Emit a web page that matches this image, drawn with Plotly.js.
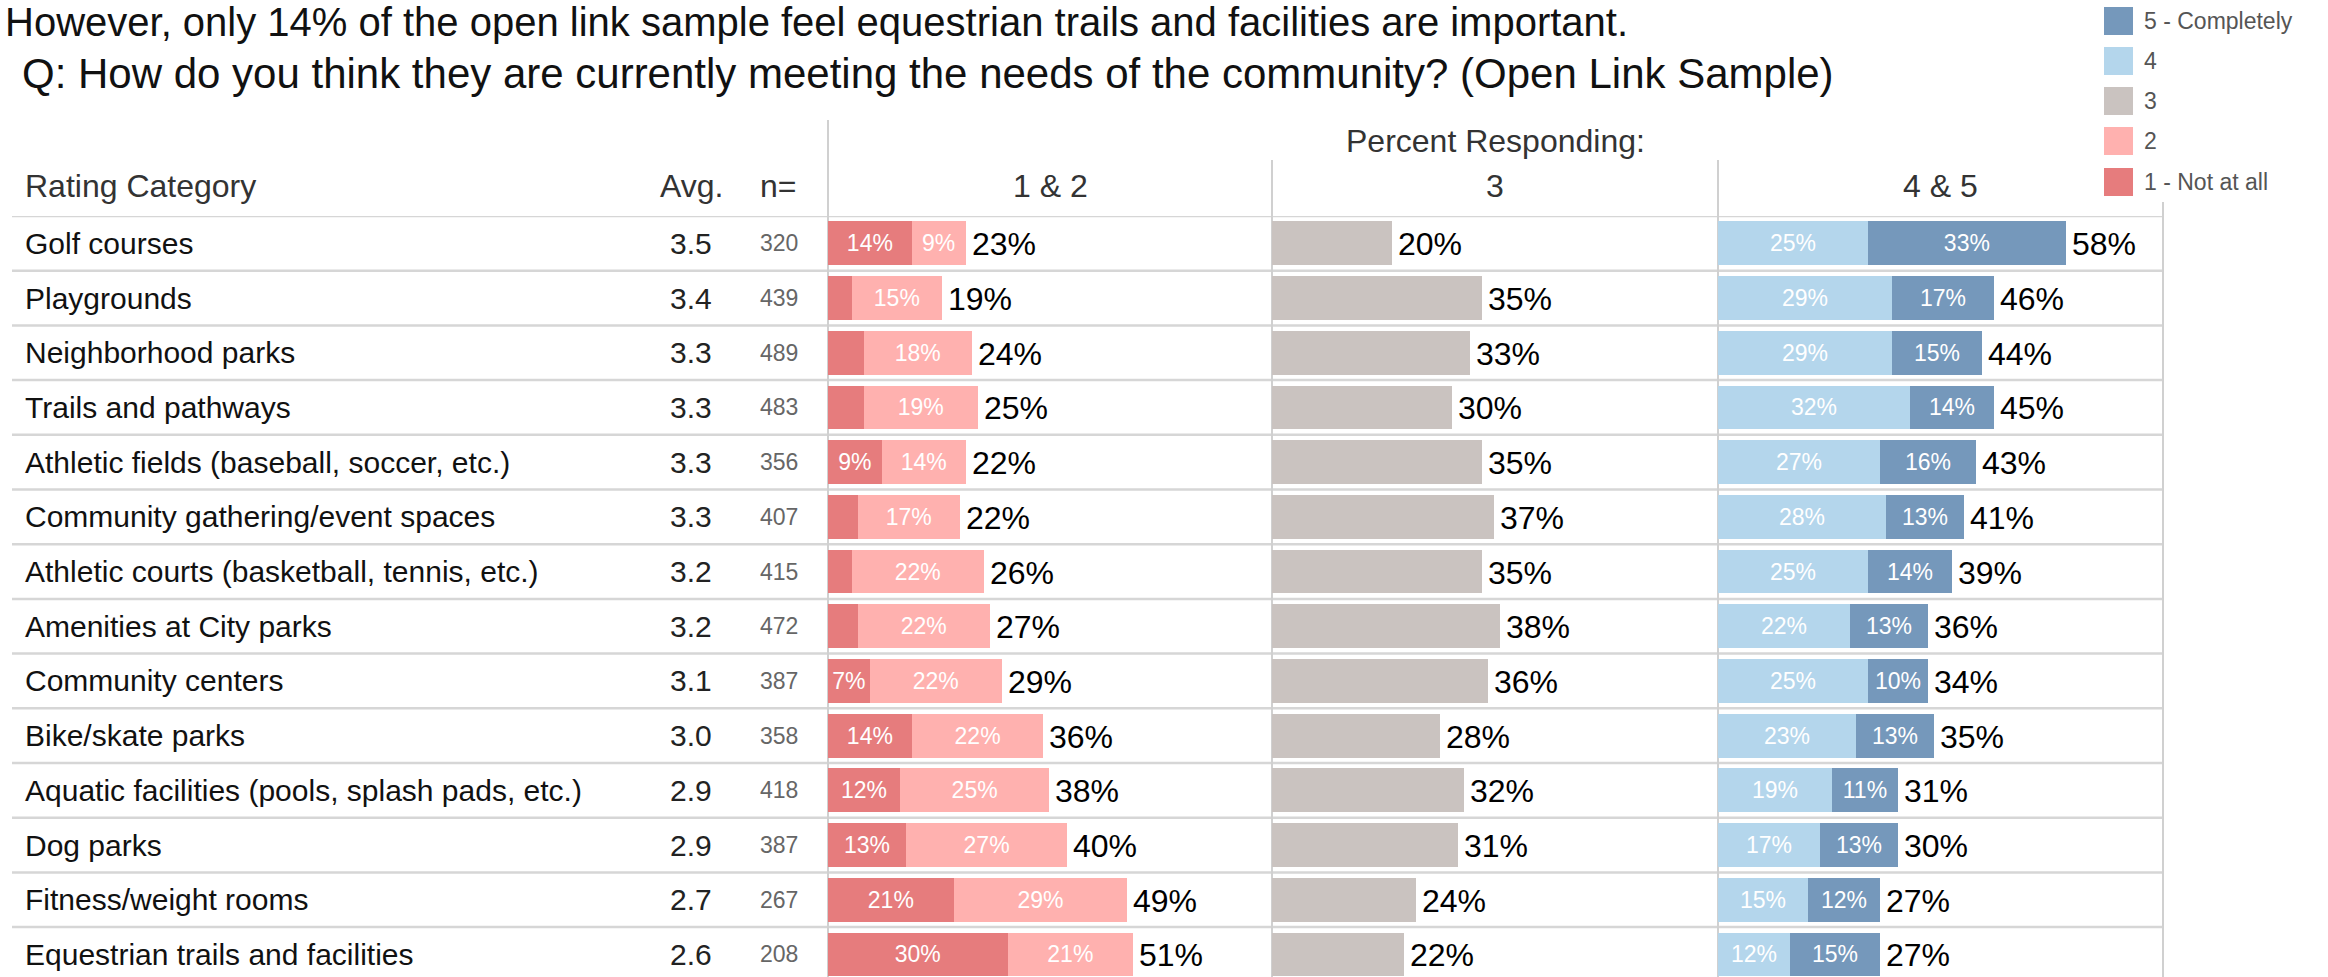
<!DOCTYPE html>
<html>
<head>
<meta charset="utf-8">
<script src="https://cdn.plot.ly/plotly-3.0.1.min.js"></script>
<style>html,body{margin:0;padding:0;background:#fff;}#chart{width:2328px;height:977px;}</style>
</head>
<body>
<div id="chart"></div>
<script>
// ---------------- DATA ----------------
const categories = [
  "Golf courses",
  "Playgrounds",
  "Neighborhood parks",
  "Trails and pathways",
  "Athletic fields (baseball, soccer, etc.)",
  "Community gathering/event spaces",
  "Athletic courts (basketball, tennis, etc.)",
  "Amenities at City parks",
  "Community centers",
  "Bike/skate parks",
  "Aquatic facilities (pools, splash pads, etc.)",
  "Dog parks",
  "Fitness/weight rooms",
  "Equestrian trails and facilities"
];
const avgScores   = [3.5, 3.4, 3.3, 3.3, 3.3, 3.3, 3.2, 3.2, 3.1, 3.0, 2.9, 2.9, 2.7, 2.6];
const sampleSizes = [320, 439, 489, 483, 356, 407, 415, 472, 387, 358, 418, 387, 267, 208];
const pct1 = [14, 4, 6, 6, 9, 5, 4, 5, 7, 14, 12, 13, 21, 30];
const pct2 = [9, 15, 18, 19, 14, 17, 22, 22, 22, 22, 25, 27, 29, 21];
const total12 = [23, 19, 24, 25, 22, 22, 26, 27, 29, 36, 38, 40, 49, 51];
const pct3 = [20, 35, 33, 30, 35, 37, 35, 38, 36, 28, 32, 31, 24, 22];
const pct4 = [25, 29, 29, 32, 27, 28, 25, 22, 25, 23, 19, 17, 15, 12];
const pct5 = [33, 17, 15, 14, 16, 13, 14, 13, 10, 13, 11, 13, 12, 15];
const total45 = [58, 46, 44, 45, 43, 41, 39, 36, 34, 35, 31, 30, 27, 27];
const legendLabels = ["5 - Completely", "4", "3", "2", "1 - Not at all"];
const panelHeaders = ["1 & 2", "3", "4 & 5"];
const titleLine1 = "However, only 14% of the open link sample feel equestrian trails and facilities are important.";
const titleLine2 = "Q: How do you think they are currently meeting the needs of the community? (Open Link Sample)";

// ---------------- STYLE ----------------
const W = 2328, H = 977;
const FONT = "Liberation Sans, Arial, Helvetica, sans-serif";
const colors = {"1": "#E67C7D", "2": "#FFB1AF", "3": "#CAC3C0", "4": "#B4D6EC", "5": "#7598BB"};
const legendColors = [colors["5"], colors["4"], colors["3"], colors["2"], colors["1"]];
const px = v => v / W;          // pixel -> paper x
const py = v => 1 - v / H;      // pixel -> paper y
const xRange = [0, 74.2];
const panelEdges = [828, 1272, 1718, 2163];

const segLabel = arr => arr.map(v => v >= 7 ? v + "%" : "");
function barTrace(vals, color, xa, withText) {
  return {
    type: "bar", orientation: "h", y: categories, x: vals, xaxis: xa, yaxis: "y",
    marker: {color: color, line: {width: 0}},
    text: withText ? segLabel(vals) : undefined,
    textposition: withText ? "inside" : "none", insidetextanchor: "middle",
    textangle: 0, constraintext: "none",
    textfont: {family: FONT, size: 23, color: "#ffffff"},
    hoverinfo: "skip", showlegend: false
  };
}

const traces = [
  barTrace(pct1, colors["1"], "x", true),
  barTrace(pct2, colors["2"], "x", true),
  barTrace(pct3, colors["3"], "x2", false),
  barTrace(pct4, colors["4"], "x3", true),
  barTrace(pct5, colors["5"], "x3", true)
];

const axisBase = {range: xRange, showgrid: false, zeroline: false, showticklabels: false, ticks: "", showline: false, fixedrange: true};

// rows: header line at 216px, row pitch 54.7px
const rowTop = 216, rowPitch = 54.7;
const yBottom = -0.5 + (H - rowTop) / rowPitch;

const annotations = [];
const shapes = [];
const ann = (o) => annotations.push(Object.assign({showarrow: false, borderpad: 0}, o));

// titles
ann({text: titleLine1, xref: "paper", yref: "paper", x: px(4), y: py(22), xanchor: "left", yanchor: "middle",
     font: {family: FONT, size: 40, color: "#111111"}});
ann({text: titleLine2, xref: "paper", yref: "paper", x: px(21), y: py(74), xanchor: "left", yanchor: "middle",
     font: {family: FONT, size: 42, color: "#111111"}});

// headers
const hdrFont = {family: FONT, size: 32, color: "#333333"};
ann({text: "Percent Responding:", xref: "x2 domain", yref: "paper", x: 0.5, y: py(140.5), xanchor: "center", yanchor: "middle", font: hdrFont});
ann({text: "Rating Category", xref: "paper", yref: "paper", x: px(24), y: py(186), xanchor: "left", yanchor: "middle", font: hdrFont});
ann({text: "Avg.", xref: "paper", yref: "paper", x: px(724), y: py(186), xanchor: "right", yanchor: "middle", font: hdrFont});
ann({text: "n=", xref: "paper", yref: "paper", x: px(797), y: py(186), xanchor: "right", yanchor: "middle", font: hdrFont});
["x", "x2", "x3"].forEach((xa, k) => {
  ann({text: panelHeaders[k], xref: xa + " domain", yref: "paper", x: 0.5, y: py(186), xanchor: "center", yanchor: "middle", font: hdrFont});
});

// row texts and totals
const totFont = {family: FONT, size: 32, color: "#000000"};
categories.forEach((c, i) => {
  ann({text: c, xref: "paper", yref: "y", x: px(24), y: c, xanchor: "left", yanchor: "middle",
       font: {family: FONT, size: 30, color: "#111111"}});
  ann({text: avgScores[i].toFixed(1), xref: "paper", yref: "y", x: px(713), y: c, xanchor: "right", yanchor: "middle",
       font: {family: FONT, size: 30, color: "#222222"}});
  ann({text: String(sampleSizes[i]), xref: "paper", yref: "y", x: px(799), y: c, xanchor: "right", yanchor: "middle",
       font: {family: FONT, size: 23, color: "#666666"}});
  ann({text: total12[i] + "%", xref: "x", yref: "y", x: pct1[i] + pct2[i], y: c, xanchor: "left", yanchor: "middle", xshift: 5, yshift: -1, font: totFont});
  ann({text: pct3[i] + "%", xref: "x2", yref: "y", x: pct3[i], y: c, xanchor: "left", yanchor: "middle", xshift: 5, yshift: -1, font: totFont});
  ann({text: total45[i] + "%", xref: "x3", yref: "y", x: pct4[i] + pct5[i], y: c, xanchor: "left", yanchor: "middle", xshift: 5, yshift: -1, font: totFont});
});

// horizontal row separators
for (let k = 0; k < categories.length; k++) {
  shapes.push({type: "line", layer: "below", xref: "paper", yref: "y", x0: px(12), x1: px(2163), y0: k - 0.5, y1: k - 0.5,
               line: {color: "#d6d6d6", width: 2.5}});
}
// vertical panel lines
const vTops = [120, 160, 160, 202];
panelEdges.forEach((e, k) => {
  shapes.push({type: "line", layer: "below", xref: "paper", yref: "paper", x0: px(e), x1: px(e), y0: py(vTops[k]), y1: 0,
               line: {color: "#d0d0d0", width: 2}});
});

// legend (drawn)
const legendCenters = [21, 61, 101, 141, 182];
legendLabels.forEach((lab, k) => {
  const c = legendCenters[k];
  shapes.push({type: "rect", xref: "paper", yref: "paper", x0: px(2104), x1: px(2133), y0: py(c - 14), y1: py(c + 14),
               fillcolor: legendColors[k], line: {width: 0}});
  ann({text: lab, xref: "paper", yref: "paper", x: px(2143), y: py(c), xanchor: "left", yanchor: "middle",
       font: {family: FONT, size: 23, color: "#555555"}});
});

const layout = {
  width: W, height: H,
  margin: {l: 0, r: 0, t: 0, b: 0, pad: 0},
  paper_bgcolor: "#ffffff", plot_bgcolor: "rgba(0,0,0,0)",
  barmode: "stack", bargap: 0.2,
  showlegend: false,
  uniformtext: {mode: "show", minsize: 23},
  xaxis:  Object.assign({}, axisBase, {domain: [px(panelEdges[0]), px(panelEdges[1])], anchor: "y"}),
  xaxis2: Object.assign({}, axisBase, {domain: [px(panelEdges[1]), px(panelEdges[2])], anchor: "y"}),
  xaxis3: Object.assign({}, axisBase, {domain: [px(panelEdges[2]), px(panelEdges[3])], anchor: "y"}),
  yaxis: {type: "category", categoryorder: "array", categoryarray: categories,
          domain: [0, py(rowTop)], range: [yBottom, -0.5],
          showgrid: false, zeroline: false, showticklabels: false, ticks: "", showline: false, fixedrange: true},
  annotations: annotations,
  shapes: shapes,
  font: {family: FONT}
};

Plotly.newPlot("chart", traces, layout, {displayModeBar: false, staticPlot: true});
</script>
</body>
</html>
